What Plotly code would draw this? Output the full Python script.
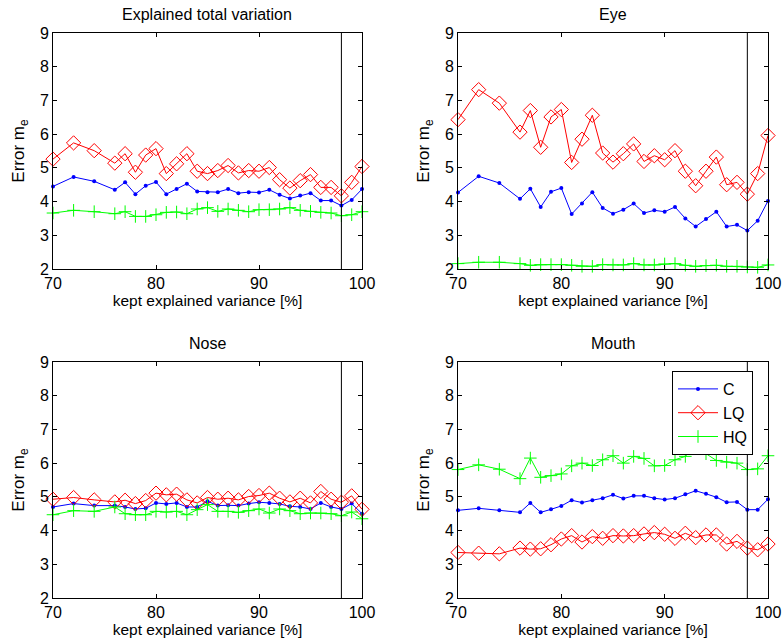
import plotly.graph_objects as go

x_vals = [70, 72, 74, 76, 77, 78, 79, 80, 81, 82, 83, 84, 85, 86, 87, 88, 89, 90,
          91, 92, 93, 94, 95, 96, 97, 98, 99, 100]

panel_titles = ["Explained total variation", "Eye", "Nose", "Mouth"]
series_names = ["C", "LQ", "HQ"]

# Explained total variation
total_C = [4.45, 4.73, 4.60, 4.35, 4.57, 4.22, 4.47, 4.58, 4.22, 4.37, 4.53, 4.30, 4.28, 4.28,
           4.37, 4.25, 4.28, 4.27, 4.35, 4.20, 4.09, 4.18, 4.25, 4.03, 4.03, 3.88, 4.05, 4.37]
total_LQ = [5.26, 5.74, 5.51, 5.14, 5.42, 4.87, 5.38, 5.57, 4.83, 5.12, 5.42, 4.90, 4.83, 4.92,
            5.07, 4.85, 4.92, 4.90, 5.01, 4.65, 4.40, 4.62, 4.80, 4.42, 4.42, 4.17, 4.57, 5.04]
total_HQ = [3.66, 3.74, 3.70, 3.64, 3.70, 3.56, 3.56, 3.61, 3.68, 3.69, 3.64, 3.78, 3.82, 3.71,
            3.78, 3.74, 3.70, 3.76, 3.76, 3.78, 3.82, 3.74, 3.71, 3.68, 3.66, 3.58, 3.61, 3.70]

# Eye
eye_C = [4.27, 4.75, 4.55, 4.08, 4.38, 3.84, 4.29, 4.40, 3.63, 3.94, 4.28, 3.81, 3.64, 3.76,
         3.94, 3.66, 3.74, 3.70, 3.84, 3.50, 3.26, 3.48, 3.70, 3.26, 3.31, 3.14, 3.43, 4.02]
eye_LQ = [6.43, 7.32, 6.92, 6.06, 6.70, 5.61, 6.51, 6.73, 5.16, 5.85, 6.56, 5.44, 5.17, 5.42,
          5.71, 5.19, 5.36, 5.24, 5.51, 4.90, 4.47, 4.90, 5.32, 4.50, 4.57, 4.22, 4.83, 5.96]
eye_HQ = [2.16, 2.20, 2.20, 2.16, 2.11, 2.13, 2.13, 2.13, 2.11, 2.08, 2.08, 2.13, 2.12, 2.12,
          2.16, 2.12, 2.12, 2.15, 2.16, 2.11, 2.08, 2.10, 2.11, 2.08, 2.08, 2.06, 2.05, 2.12]

# Nose
nose_C = [4.70, 4.80, 4.74, 4.74, 4.70, 4.64, 4.66, 4.82, 4.79, 4.82, 4.70, 4.70, 4.87, 4.74,
          4.75, 4.74, 4.80, 4.84, 4.82, 4.79, 4.72, 4.70, 4.64, 4.82, 4.70, 4.64, 4.80, 4.50]
nose_LQ = [4.93, 4.98, 4.91, 4.85, 4.90, 4.80, 4.89, 5.11, 5.06, 5.08, 4.91, 4.82, 4.98, 4.93,
           4.96, 4.91, 5.01, 5.04, 5.11, 4.96, 4.85, 4.96, 4.82, 5.16, 4.93, 4.84, 5.03, 4.63]
nose_HQ = [4.47, 4.59, 4.57, 4.70, 4.50, 4.47, 4.47, 4.57, 4.55, 4.57, 4.47, 4.62, 4.77, 4.57,
           4.57, 4.54, 4.59, 4.64, 4.52, 4.64, 4.59, 4.50, 4.52, 4.52, 4.50, 4.44, 4.55, 4.35]

# Mouth
mouth_C = [4.60, 4.66, 4.60, 4.54, 4.82, 4.54, 4.63, 4.73, 4.90, 4.83, 4.90, 4.96, 5.06, 4.95,
           5.03, 5.03, 4.96, 4.92, 4.96, 5.08, 5.18, 5.09, 4.99, 4.84, 4.85, 4.62, 4.62, 4.93]
mouth_LQ = [3.35, 3.33, 3.31, 3.48, 3.45, 3.46, 3.58, 3.75, 3.85, 3.66, 3.82, 3.77, 3.85, 3.84,
            3.85, 3.90, 3.94, 3.89, 3.77, 3.92, 3.79, 3.87, 3.87, 3.60, 3.68, 3.48, 3.43, 3.60]
mouth_HQ = [5.81, 5.95, 5.82, 5.54, 6.15, 5.58, 5.63, 5.68, 5.92, 6.00, 5.93, 6.10, 6.22, 6.00,
            6.20, 6.14, 5.92, 5.93, 6.10, 6.20, 6.52, 6.28, 6.08, 6.03, 6.00, 5.81, 5.83, 6.22]

cutoff = 98
x_ticks = [70, 80, 90, 100]
y_ticks = [2, 3, 4, 5, 6, 7, 8, 9]

panels = [
    (total_C, total_LQ, total_HQ),
    (eye_C, eye_LQ, eye_HQ),
    (nose_C, nose_LQ, nose_HQ),
    (mouth_C, mouth_LQ, mouth_HQ),
]

W, H = 783, 639
FONT = "Liberation Sans, Arial, Helvetica, sans-serif"

# pixel boxes of plot areas: (left, right, top, bottom)
boxes = [(53, 362, 33, 269), (458, 768, 33, 269),
         (53, 362, 362, 598), (458, 768, 362, 598)]

colors = ["#0000ff", "#ff0000", "#00ff00"]
markers = [dict(symbol="circle", size=4, color=colors[0]),
           dict(symbol="diamond-open", size=11, color=colors[1], line=dict(width=1, color=colors[1])),
           dict(symbol="cross-thin-open", size=9, color=colors[2], line=dict(width=1, color=colors[2]))]

fig = go.Figure()
layout = dict(width=W, height=H, margin=dict(l=0, r=0, t=0, b=0),
              paper_bgcolor="white", plot_bgcolor="white",
              font=dict(family=FONT, size=16, color="black"),
              showlegend=True)
annotations = []
shapes = []

for i, (series, box) in enumerate(zip(panels, boxes)):
    n = i + 1
    xa = "x" if n == 1 else f"x{n}"
    ya = "y" if n == 1 else f"y{n}"
    for j, (vals, name) in enumerate(zip(series, series_names)):
        fig.add_trace(go.Scatter(
            x=x_vals, y=vals, mode="lines+markers", name=name,
            line=dict(color=colors[j], width=1), marker=markers[j],
            cliponaxis=False,
            xaxis=xa, yaxis=ya, showlegend=(n == 4)))
    l, r, t, b = box
    axis_common = dict(showline=True, linecolor="black", linewidth=1, mirror="ticks",
                       ticks="inside", ticklen=4, tickcolor="black", showgrid=False,
                       zeroline=False, automargin=False,
                       tickfont=dict(size=16, family=FONT))
    layout[f"xaxis{'' if n == 1 else n}"] = dict(
        domain=[l / W, r / W], range=[70, 100], tickvals=x_ticks, anchor=ya,
        title=dict(text="kept explained variance [%]", font=dict(size=15.5), standoff=0),
        **axis_common)
    layout[f"yaxis{'' if n == 1 else n}"] = dict(
        domain=[1 - b / H, 1 - t / H], range=[2, 9], tickvals=y_ticks, anchor=xa,
        title=dict(text="Error m<sub>e</sub>", font=dict(size=17), standoff=10),
        **axis_common)
    annotations.append(dict(text=panel_titles[i], x=(l + r) / 2 / W, y=1 - (t - 8) / H,
                            xref="paper", yref="paper", xanchor="center", yanchor="bottom",
                            showarrow=False, font=dict(size=16, family=FONT)))
    shapes.append(dict(type="line", x0=cutoff, x1=cutoff, y0=0, y1=1,
                       xref=xa, yref=f"{ya} domain", line=dict(color="black", width=1)))

layout["annotations"] = annotations
layout["shapes"] = shapes
layout["legend"] = dict(x=753 / W, y=1 - 371 / H, xanchor="right", yanchor="top",
                        bordercolor="black", borderwidth=1, bgcolor="white",
                        font=dict(size=16, family=FONT), tracegroupgap=0,
                        itemwidth=40)
fig.update_layout(**layout)
fig.write_html("out.html")
